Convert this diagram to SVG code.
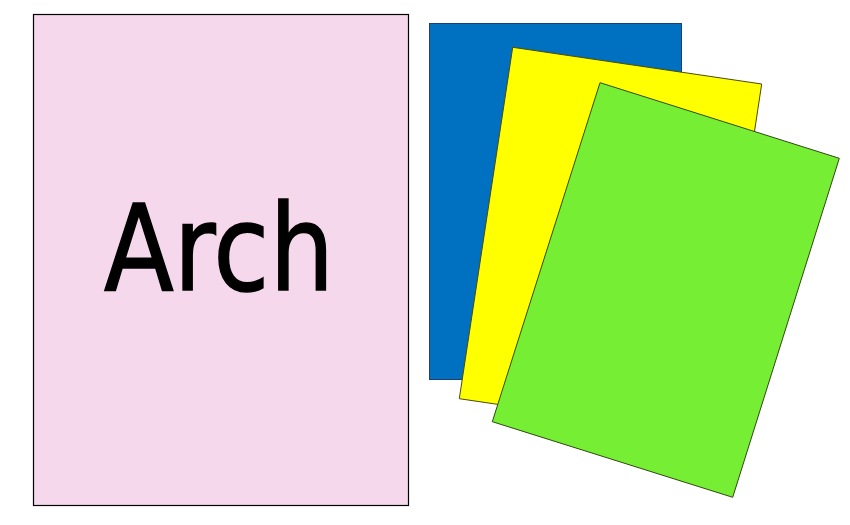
<svg xmlns="http://www.w3.org/2000/svg" width="850" height="525" viewBox="0 0 850 525">
<style>
.card{stroke-width:1;stroke-linejoin:miter}
.lbl{font-family:"DejaVu Sans","Liberation Sans",sans-serif;font-size:120px;fill:#000;stroke:#000;stroke-width:1.6px}
</style>
<rect x="0" y="0" width="850" height="525" fill="#ffffff"/>
<g id="arch">
<rect x="33.5" y="14.5" width="375" height="491" fill="#F6D8EC" stroke="#000" stroke-width="1.2"/>
<text class="lbl" x="104" y="290" textLength="230" lengthAdjust="spacingAndGlyphs">Arch</text>
</g>
<g id="blue">
<rect class="card" x="429.5" y="23.5" width="252" height="356" fill="#0070C0" stroke="#1F3F6F"/>
</g>
<g id="yellow">
<polygon class="card" points="512.7,47.3 761.7,84 708.3,435.4 459.3,398.7" fill="#FFFF00" stroke="#4a4a10"/>
</g>
<g id="green">
<polygon class="card" points="600,82.7 839.3,158.3 732.7,497.3 492.3,421.7" fill="#76EE34" stroke="#2f4a10"/>
</g>
<g id="connectors"></g>
</svg>
